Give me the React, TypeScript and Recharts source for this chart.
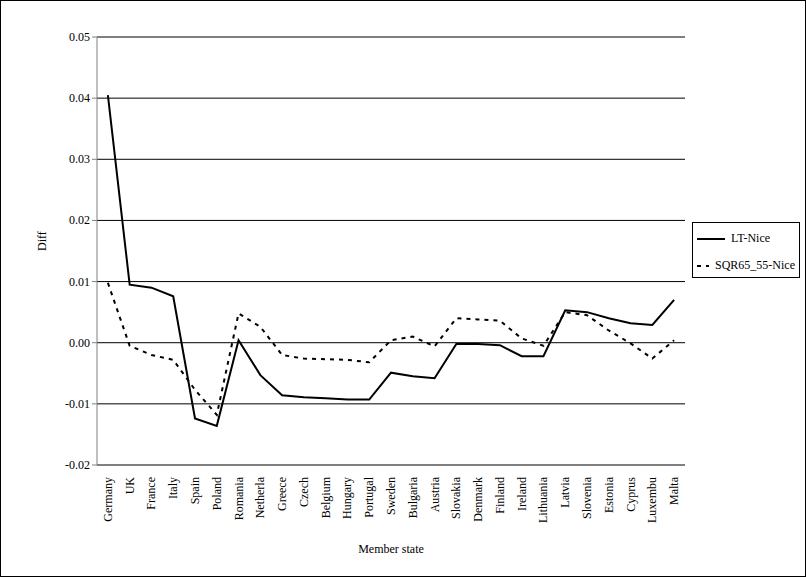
import React from "react";
import { LineChart, Line, XAxis, YAxis, CartesianGrid } from "recharts";

const countries = ["Germany","UK","France","Italy","Spain","Poland","Romania","Netherla","Greece","Czech","Belgium","Hungary","Portugal","Sweden","Bulgaria","Austria","Slovakia","Denmark","Finland","Ireland","Lithuania","Latvia","Slovenia","Estonia","Cyprus","Luxembu","Malta"];
const ltNice = [0.0405,0.0095,0.009,0.0076,-0.0124,-0.0136,0.0004,-0.0053,-0.0086,-0.0089,-0.0091,-0.0093,-0.0093,-0.0049,-0.0055,-0.0058,-0.0002,-0.0002,-0.0004,-0.0022,-0.0022,0.0053,0.005,0.004,0.0032,0.0029,0.007];
const sqrNice = [0.0098,-0.0005,-0.002,-0.0028,-0.0077,-0.0118,0.0048,0.0026,-0.002,-0.0026,-0.0027,-0.0028,-0.0032,0.0004,0.001,-0.0006,0.004,0.0038,0.0036,0.0007,-0.0005,0.005,0.0045,0.002,-0.0001,-0.0026,0.0004];
const yTicks = [-0.02,-0.01,0,0.01,0.02,0.03,0.04,0.05];

const data = countries.map((c, i) => ({ name: c, lt: ltNice[i], sqr: sqrNice[i] }));
const font = "Liberation Serif";

const XTick = (props: any) => {
  const { x, y, payload } = props;
  return (
    <text x={x} y={y} transform={`rotate(-90 ${x} ${y})`} textAnchor="end" dx={-4} dy={4} fontSize={12} fontFamily={font} fill="#000">
      {payload.value}
    </text>
  );
};

const YTick = (props: any) => {
  const { x, y, payload } = props;
  return (
    <text x={x} y={y} textAnchor="end" dy={4} fontSize={12} fontFamily={font} fill="#000">
      {Number(payload.value).toFixed(2)}
    </text>
  );
};

export default function App() {
  return (
    <div style={{ position: "absolute", left: 0, top: 0, width: 806, height: 577, background: "#fff", fontFamily: font }}>
      <div style={{ position: "absolute", left: 0, top: 0, width: 804, height: 575, border: "1px solid #000" }} />
      <LineChart width={806} height={577} data={data} margin={{ top: 37, right: 121, bottom: 24, left: 37 }}>
        <CartesianGrid horizontal vertical={false} stroke="#000" strokeWidth={1} />
        <XAxis dataKey="name" scale="band" interval={0} tick={<XTick />} height={88} axisLine={false} tickLine={false}
          label={{ value: "Member state", position: "insideBottom", offset: 0, fontSize: 12, fill: "#000", fontFamily: font }} />
        <YAxis width={60} domain={[-0.02, 0.05]} ticks={yTicks} tick={<YTick />} stroke="#808080" tickSize={5}
          label={{ value: "Diff", angle: -90, position: "insideLeft", offset: 5, fontSize: 12, fill: "#000", fontFamily: font }} />
        <YAxis yAxisId="r" orientation="right" width={0} tick={false} stroke="#808080" />
        <Line type="linear" dataKey="lt" stroke="#000" strokeWidth={2} dot={false} isAnimationActive={false} />
        <Line type="linear" dataKey="sqr" stroke="#000" strokeWidth={2} strokeDasharray="4 5" dot={false} isAnimationActive={false} />
      </LineChart>
      <div style={{ position: "absolute", left: 692, top: 222, width: 108, height: 56, boxSizing: "border-box", border: "1px solid #000", background: "#fff", padding: "8px 4px", fontSize: 12, whiteSpace: "nowrap" }}>
        <div style={{ display: "flex", alignItems: "center", marginBottom: 12 }}>
          <svg width={28} height={6}><line x1={0} y1={3} x2={28} y2={3} stroke="#000" strokeWidth={2} /></svg>
          <span style={{ marginLeft: 6 }}>LT-Nice</span>
        </div>
        <div style={{ display: "flex", alignItems: "center" }}>
          <svg width={28} height={6}><line x1={0} y1={3} x2={28} y2={3} stroke="#000" strokeWidth={2} strokeDasharray="4 5" /></svg>
          <span style={{ marginLeft: 6 }}>SQR65_55-Nice</span>
        </div>
      </div>
    </div>
  );
}
